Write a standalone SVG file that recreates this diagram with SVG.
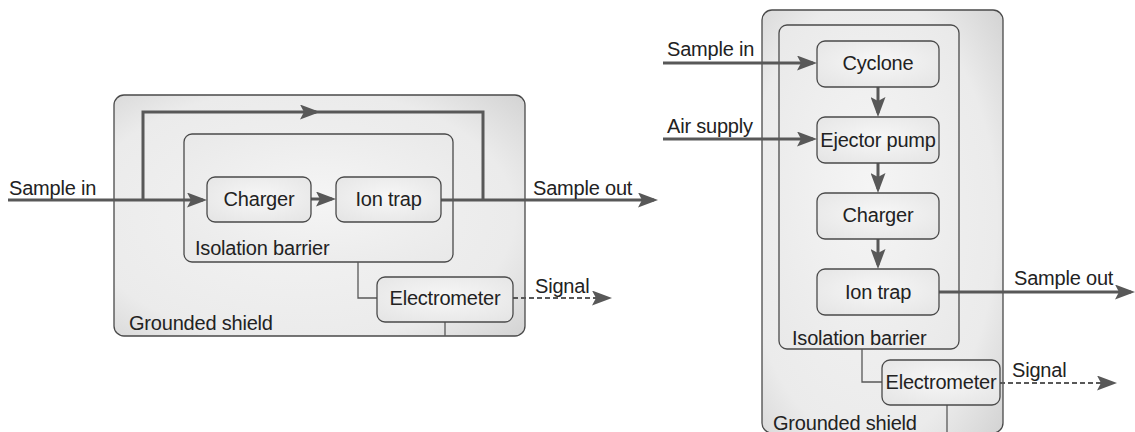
<svg xmlns="http://www.w3.org/2000/svg" width="1135" height="432" viewBox="0 0 1135 432">
  <style>
    text { font-family: "Liberation Sans", Arial, sans-serif; font-size: 20px; letter-spacing: -0.2px; fill: #222; }
    .mid { text-anchor: middle; }
    .shield { fill: url(#shieldFill); stroke: #4a4a4a; stroke-width: 1.3; }
    .barrier { fill: url(#barrierFill); stroke: #4a4a4a; stroke-width: 1.3; }
    .box { fill: url(#boxFill); stroke: #4a4a4a; stroke-width: 1.3; }
    .flow { fill: none; stroke: #585858; stroke-width: 3; }
    .flowArrow { fill: none; stroke: #585858; stroke-width: 3; marker-end: url(#arr); }
    .sig { fill: none; stroke: #585858; stroke-width: 2; stroke-dasharray: 5 3; marker-end: url(#arr); }
    .wire { fill: none; stroke: #585858; stroke-width: 1.3; }
  </style>
  <defs>
    <radialGradient id="shieldFill" cx="0.45" cy="0.5" r="0.75">
      <stop offset="0" stop-color="#f3f3f3"/>
      <stop offset="0.7" stop-color="#ebebeb"/>
      <stop offset="1" stop-color="#d2d2d2"/>
    </radialGradient>
    <radialGradient id="barrierFill" cx="0.5" cy="0.5" r="0.75">
      <stop offset="0" stop-color="#f5f5f5"/>
      <stop offset="1" stop-color="#e8e8e8"/>
    </radialGradient>
    <radialGradient id="boxFill" cx="0.5" cy="0.45" r="0.8">
      <stop offset="0" stop-color="#f7f7f7"/>
      <stop offset="1" stop-color="#e2e2e2"/>
    </radialGradient>
    <marker id="arr" viewBox="0 0 20 15" markerWidth="20" markerHeight="15" markerUnits="userSpaceOnUse" refX="16" refY="7.5" orient="auto">
      <path d="M0,0 L20,7.5 L0,15 L4,7.5 Z" fill="#585858"/>
    </marker>
  </defs>

  <rect width="1135" height="432" fill="#ffffff"/>

  <!-- Left system: enclosures -->
  <g id="left-shield">
    <rect class="shield" x="114" y="95" width="411" height="241" rx="10"/>
    <text x="129" y="330">Grounded shield</text>
  </g>
  <g id="left-barrier">
    <rect class="barrier" x="184" y="134" width="269" height="128" rx="8"/>
    <text x="195" y="255">Isolation barrier</text>
  </g>

  <!-- Right system: enclosures -->
  <g id="right-shield">
    <rect class="shield" x="762" y="10" width="241" height="423" rx="10"/>
    <text x="773" y="430">Grounded shield</text>
  </g>
  <g id="right-barrier">
    <rect class="barrier" x="779" y="25" width="180" height="324" rx="8"/>
    <text x="792" y="345">Isolation barrier</text>
  </g>

  <!-- Connectors -->
  <g id="connectors">
    <!-- left system -->
    <path class="flowArrow" d="M8,200 H203"/>
    <path class="flowArrow" d="M143,200 V112 H316"/>
    <path class="flow" d="M314,112 H483 V200"/>
    <path class="flowArrow" d="M311,199 H332"/>
    <path class="flowArrow" d="M441,200 H654"/>
    <path class="sig" d="M513,298 H608"/>
    <path class="wire" d="M358,262 V298 H377"/>
    <path class="wire" d="M445,322 V336"/>
    <!-- right system -->
    <path class="flowArrow" d="M663,63 H813"/>
    <path class="flowArrow" d="M663,139 H813"/>
    <path class="flowArrow" d="M878,87 V113"/>
    <path class="flowArrow" d="M878,163 V189"/>
    <path class="flowArrow" d="M878,239 V265"/>
    <path class="flowArrow" d="M939,292 H1131"/>
    <path class="sig" d="M1000,383 H1113"/>
    <path class="wire" d="M862,349 V382 H882"/>
    <path class="wire" d="M947,405 V433"/>
  </g>

  <!-- Connector labels -->
  <g id="labels">
    <text x="9" y="195">Sample in</text>
    <text x="533" y="195">Sample out</text>
    <text x="535" y="293">Signal</text>
    <text x="667" y="56">Sample in</text>
    <text x="667" y="133">Air supply</text>
    <text x="1014" y="285">Sample out</text>
    <text x="1012" y="377">Signal</text>
  </g>

  <!-- Left system nodes -->
  <g id="left-charger">
    <rect class="box" x="207" y="177" width="104" height="45" rx="8"/>
    <text class="mid" x="259" y="206">Charger</text>
  </g>
  <g id="left-iontrap">
    <rect class="box" x="336" y="177" width="105" height="45" rx="8"/>
    <text class="mid" x="388.5" y="206">Ion trap</text>
  </g>
  <g id="left-electrometer">
    <rect class="box" x="377" y="277" width="136" height="45" rx="8"/>
    <text class="mid" x="445" y="305">Electrometer</text>
  </g>

  <!-- Right system nodes -->
  <g id="right-cyclone">
    <rect class="box" x="817" y="41" width="122" height="46" rx="8"/>
    <text class="mid" x="878" y="70">Cyclone</text>
  </g>
  <g id="right-ejector">
    <rect class="box" x="817" y="117" width="122" height="46" rx="8"/>
    <text class="mid" x="878" y="147">Ejector pump</text>
  </g>
  <g id="right-charger">
    <rect class="box" x="817" y="193" width="122" height="46" rx="8"/>
    <text class="mid" x="878" y="222">Charger</text>
  </g>
  <g id="right-iontrap">
    <rect class="box" x="817" y="269" width="122" height="46" rx="8"/>
    <text class="mid" x="878" y="299">Ion trap</text>
  </g>
  <g id="right-electrometer">
    <rect class="box" x="882" y="360" width="118" height="45" rx="8"/>
    <text class="mid" x="941" y="389">Electrometer</text>
  </g>
</svg>
